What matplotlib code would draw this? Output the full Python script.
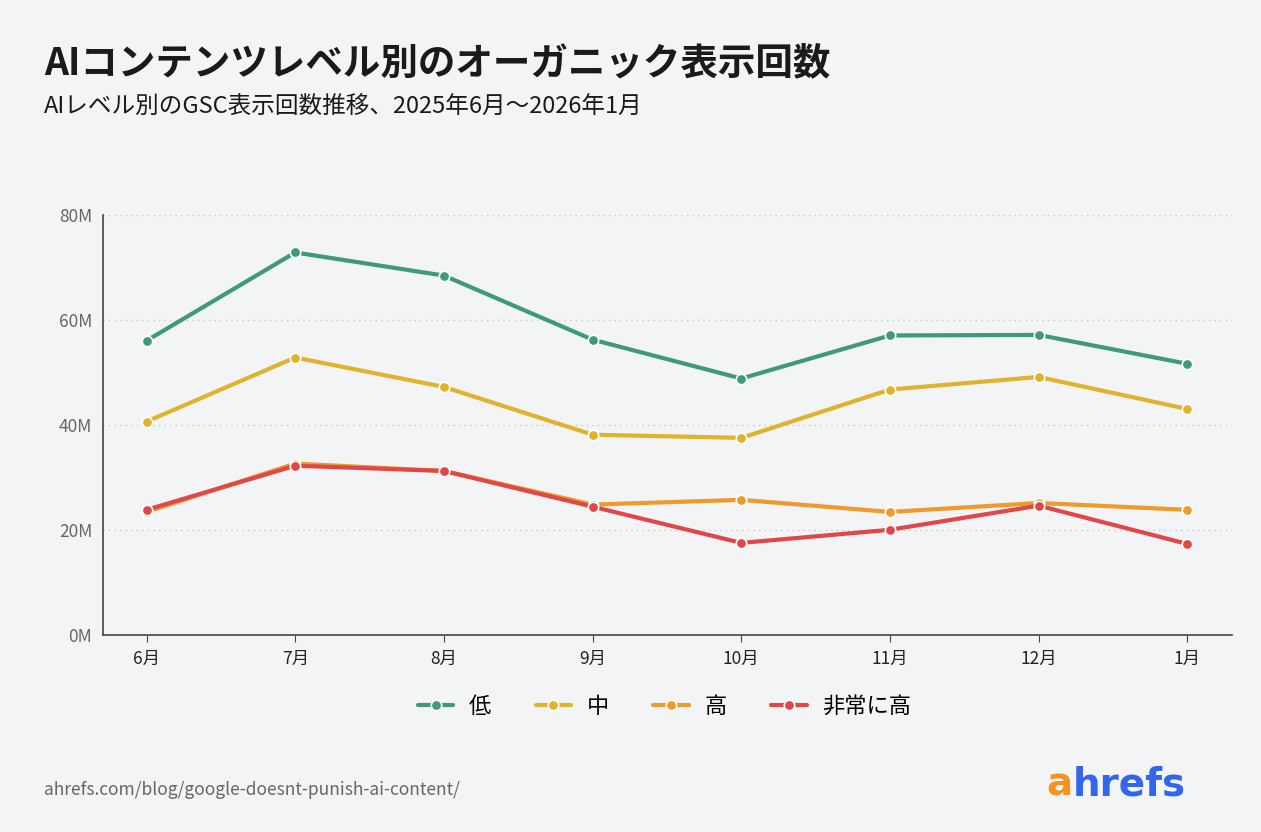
import matplotlib
matplotlib.use("Agg")
import matplotlib.pyplot as plt

plt.rcParams['font.family'] = ['Noto Sans CJK JP', 'DejaVu Sans']

months = ["6月", "7月", "8月", "9月", "10月", "11月", "12月", "1月"]
low = [56.0, 72.8, 68.4, 56.2, 48.8, 57.0, 57.1, 51.6]
mid = [40.6, 52.8, 47.2, 38.1, 37.5, 46.7, 49.1, 43.0]
high = [23.4, 32.6, 31.2, 24.8, 25.7, 23.4, 25.1, 23.8]
very_high = [23.8, 32.2, 31.2, 24.4, 17.5, 20.0, 24.6, 17.3]
series_names = ["低", "中", "高", "非常に高"]
colors = ["#3f9b76", "#e0b32c", "#ee9a2c", "#e04848"]
yticks = [0, 20, 40, 60, 80]

bg = "#f3f4f6"
fig = plt.figure(figsize=(12.61, 8.32), dpi=100, facecolor=bg)
ax = fig.add_axes([0.082, 0.237, 0.895, 0.505], facecolor=bg)

x = list(range(len(months)))
for vals, name, c in zip([low, mid, high, very_high], series_names, colors):
    ax.plot(x, vals, color=c, lw=3, marker="o", ms=7.5, mec="white", mew=1.2,
            label=name, solid_capstyle="round")

ax.set_xlim(-0.29, 7.3)
ax.set_ylim(0, 80)
ax.set_yticks(yticks)
ax.set_yticklabels([f"{v}M" for v in yticks])
ax.set_xticks(x)
ax.set_xticklabels(months)
ax.tick_params(axis="y", length=0, labelsize=12.5, labelcolor="#666666", pad=8)
ax.tick_params(axis="x", length=5, labelsize=12.5, color="#444444", labelcolor="#222222", pad=6)
ax.grid(axis="y", ls=(0, (1, 3)), color="#c8c8c8", lw=1)
for s in ["top", "right"]:
    ax.spines[s].set_visible(False)
for s in ["left", "bottom"]:
    ax.spines[s].set_color("#444444")
    ax.spines[s].set_linewidth(1.2)

leg = fig.legend(loc="center", bbox_to_anchor=(0.527, 0.151), ncol=4, frameon=False,
                 fontsize=16, handlelength=1.6, columnspacing=2.0, handletextpad=0.7)

fig.text(0.035, 0.925, "AIコンテンツレベル別のオーガニック表示回数", fontsize=27,
         fontweight="bold", color="#1a1a1a", va="center")
fig.text(0.035, 0.872, "AIレベル別のGSC表示回数推移、2025年6月～2026年1月", fontsize=17,
         color="#1a1a1a", va="center")
fig.text(0.035, 0.05, "ahrefs.com/blog/google-doesnt-punish-ai-content/", fontsize=12.5,
         color="#666666", va="center")
fig.text(0.830, 0.057, "a", fontsize=28, fontweight="bold", color="#f7931e",
         va="center", family="DejaVu Sans")
fig.text(0.851, 0.057, "hrefs", fontsize=28, fontweight="bold", color="#3366ee",
         va="center", family="DejaVu Sans")

fig.savefig("out.png", dpi=100, facecolor=bg)
